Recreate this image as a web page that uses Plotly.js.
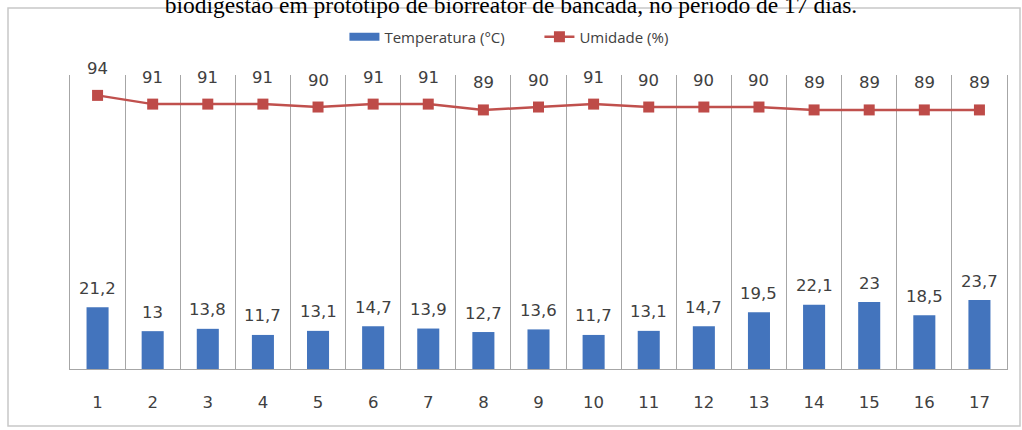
<!DOCTYPE html>
<html>
<head>
<meta charset="utf-8">
<script src="https://cdn.plot.ly/plotly-3.0.1.min.js"></script>
<style>html,body{margin:0;padding:0;background:#fff;}#chart{width:1022px;height:430px;}</style>
</head>
<body>
<div id="chart"></div>
<script>
const days = ["1","2","3","4","5","6","7","8","9","10","11","12","13","14","15","16","17"];
const temperatura = [21.2,13,13.8,11.7,13.1,14.7,13.9,12.7,13.6,11.7,13.1,14.7,19.5,22.1,23,18.5,23.7];
const umidade = [94,91,91,91,90,91,91,89,90,91,90,90,90,89,89,89,89];
const captionText = "biodigestão em protótipo de biorreator de bancada, no período de 17 dias.";

const fmt = v => String(v).replace('.', ',');
const labelFont = {family: "DejaVu Sans, sans-serif", size: 16.5, color: "#404040"};

const annotations = [];
days.forEach((d, i) => {
  annotations.push({x: i, y: temperatura[i], xref: 'x', yref: 'y', text: fmt(temperatura[i]),
    showarrow: false, yshift: 19, font: labelFont});
  annotations.push({x: i, y: umidade[i], xref: 'x', yref: 'y', text: fmt(umidade[i]),
    showarrow: false, yshift: 27, font: labelFont});
});

const M = {l: 70, r: 15, t: 75, b: 61};
const W = 1022, H = 430;
const pw = W - M.l - M.r, ph = H - M.t - M.b;
const px = x => (x - M.l) / pw;
const py = y => (H - M.b - y) / ph;

const data = [
  {type: 'bar', name: 'Temperatura (°C)', x: days, y: temperatura, showlegend: false,
   marker: {color: '#4374bd'}, width: 0.4, hoverinfo: 'x+y'},
  {type: 'scatter', mode: 'lines', name: 'Temperatura (°C)', x: [null], y: [null],
   line: {color: '#4374bd', width: 8}, showlegend: true},
  {type: 'scatter', mode: 'lines+markers', name: 'Umidade (%)', x: days, y: umidade,
   line: {color: '#c0504d', width: 2.5},
   marker: {symbol: 'square', size: 11, color: '#be4b48'}}
];

const layout = {
  width: W, height: H,
  margin: M,
  paper_bgcolor: '#ffffff', plot_bgcolor: '#ffffff',
  showlegend: true,
  title: {text: captionText, x: 0.5, xref: 'container', xanchor: 'center',
    y: 1 - 13 / H, yref: 'container', yanchor: 'bottom', pad: {t: 0, b: 0},
    font: {family: "Liberation Serif, DejaVu Serif, serif", size: 23.5, color: '#000', weight: 'normal'}},
  legend: {orientation: 'h', x: 0.501, xanchor: 'center', y: py(37), yanchor: 'middle',
    font: {family: "Open Sans, Noto Sans, sans-serif", size: 15, color: '#404040'},
    itemwidth: 30, entrywidth: 150, entrywidthmode: 'pixels', bgcolor: 'rgba(0,0,0,0)', traceorder: 'normal'},
  xaxis: {type: 'category', range: [-0.5, 16.5], tickson: 'boundaries', showgrid: true, gridcolor: '#a6a6a6', gridwidth: 1,
    showline: true, linecolor: '#a6a6a6', linewidth: 1, mirror: false, ticks: '',
    ticklabelstandoff: 18, tickfont: labelFont, fixedrange: true},
  yaxis: {range: [0, 101], showgrid: false, zeroline: false, showticklabels: false,
    showline: true, linecolor: '#a6a6a6', linewidth: 1, mirror: true, ticks: '', fixedrange: true},
  annotations: annotations,
  shapes: [
    {type: 'rect', xref: 'paper', yref: 'paper', x0: px(8), x1: px(1020), y0: py(426), y1: py(8),
     line: {color: '#c8c8c8', width: 1.5}, fillcolor: 'rgba(0,0,0,0)', layer: 'below'}
  ],
  bargap: 0.6
};

Plotly.newPlot('chart', data, layout, {staticPlot: true, displayModeBar: false});
</script>
</body>
</html>
